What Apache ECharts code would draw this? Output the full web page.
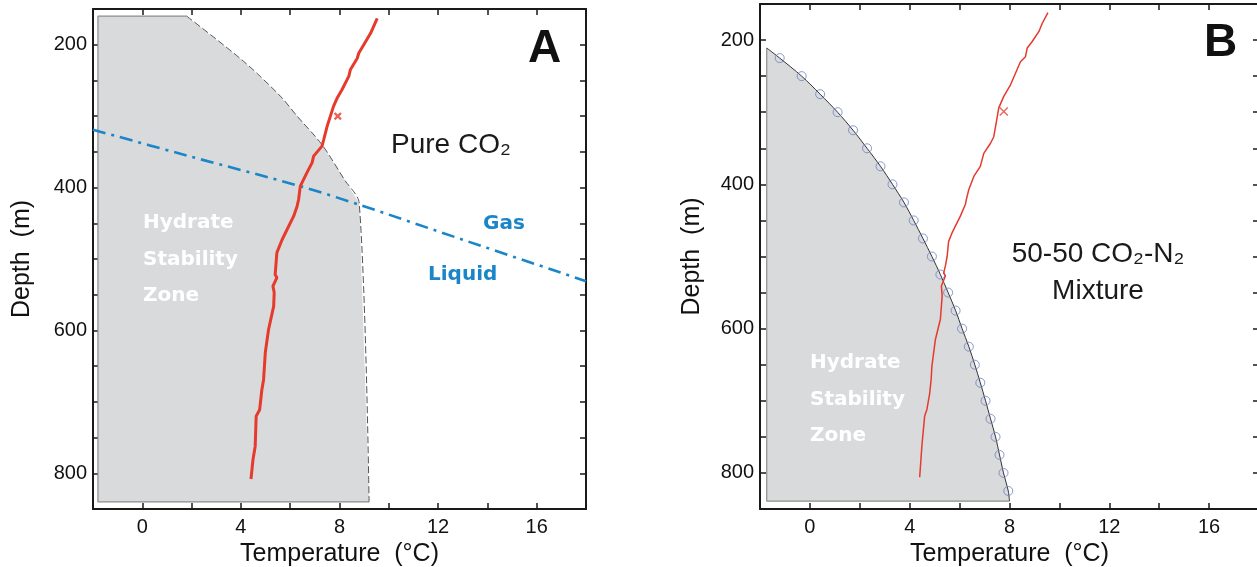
<!DOCTYPE html>
<html>
<head>
<meta charset="utf-8">
<script src="https://cdn.jsdelivr.net/npm/echarts@6/dist/echarts.min.js"></script>
<style>
html,body{margin:0;padding:0;background:#fff;}
#c{width:1257px;height:567px;}
</style>
</head>
<body>
<div id="c"></div>
<script>
// ---------- Panel A (Pure CO2) ----------
const redA_T = [9.53,9.26,8.78,8.72,8.44,8.38,8.10,7.90,7.76,7.63,7.50,7.36,7.29,6.95,6.89,6.68,6.41,6.34,6.28,6.14,5.67,5.46,5.39,5.46,5.30,5.35,5.33,5.12,4.99,4.92,4.85,4.76,4.62,4.58,4.49,4.41];
const redA_D = [163,184,212,219,235,244,263,275,286,300,314,333,342,356,365,379,398,417,426,440,473,491,522,526,538,547,566,599,631,669,683,711,720,762,781,808];
const hsA_curveT = [1.8,4.1,5.6,6.28,7.29,8.2,8.8,9.2];
const hsA_curveD = [160,223,272,300,340,389,422,840];
const hsA_edgeT = [9.2,-1.8,-1.8,1.8];
const hsA_edgeD = [840,840,160,160];
const phaseA_T = [-2,2,6.4,8.8,13,18];
const phaseA_D = [319,357,398,424,473,531];
const markA = [[7.93,300]];

// ---------- Panel B (50-50 CO2-N2) ----------
const redB_T = [9.54,9.31,9.18,8.91,8.71,8.64,8.44,8.24,8.04,7.77,7.57,7.51,7.37,7.24,6.97,6.83,6.57,6.37,6.27,6.23,6.03,5.70,5.56,5.50,5.43,5.36,5.43,5.27,5.30,5.23,5.03,4.89,4.86,4.80,4.69,4.60,4.49,4.40];
const redB_D = [162,177,188,202,211,223,230,246,262,278,294,306,334,343,357,375,389,407,421,428,444,467,479,500,513,523,527,541,555,587,615,652,670,690,712,721,762,806];
const circB_D = [225,250,275,300,325,350,375,400,425,450,475,500,525,550,575,600,625,650,675,700,725,750,775,800,825];
const circB_T = [-1.21,-0.33,0.41,1.11,1.73,2.29,2.83,3.31,3.77,4.16,4.53,4.89,5.23,5.54,5.84,6.10,6.37,6.61,6.83,7.04,7.24,7.44,7.60,7.76,7.95];
const hsB_curveT = [-1.73].concat(circB_T).concat([8.0]);
const hsB_curveD = [211].concat(circB_D).concat([839]);
const hsB_edgeT = [8.0,-1.73,-1.73];
const hsB_edgeD = [839,839,211];
const markB = [[7.77,299]];

const xTicks = [0,4,8,12,16];
const yTicks = [200,400,600,800];

const zip = (a,b) => a.map((v,i)=>[v,b[i]]);
const FONT = '"Liberation Sans", Arial, "DejaVu Sans", sans-serif';
const FONT2 = '"DejaVu Sans", "Liberation Sans", sans-serif';
const RED = '#e53a2c';
const BLUE = '#1a86c8';
const GRAY = '#d9dadb';

function polyCustom(xi, yi, T, D) {
  return {
    type:'custom', xAxisIndex:xi, yAxisIndex:yi, z:1, silent:true, clip:true,
    data:[[T[0],D[0]]],
    renderItem:(params, api) => ({
      type:'polygon',
      shape:{points:T.map((t,i)=>api.coord([t,D[i]]))},
      style:{fill:GRAY, stroke:null}
    })
  };
}

function xAxes(gi){
  return [
    {gridIndex:gi, type:'value', position:'bottom', min:-2, max:18, interval:2,
     axisLine:{show:true, onZero:false, lineStyle:{color:'#1a1a1a', width:2}},
     axisTick:{show:true, inside:true, length:6, lineStyle:{color:'#1a1a1a', width:1.5}},
     axisLabel:{show:true, fontSize:20, color:'#111', fontFamily:FONT, margin:8,
       formatter:v => xTicks.indexOf(v) >= 0 ? String(v) : ''},
     splitLine:{show:false},
     name:'Temperature  (°C)', nameLocation:'middle', nameGap:28,
     nameTextStyle:{fontSize:25, color:'#111', fontFamily:FONT}},
    {gridIndex:gi, type:'value', position:'top', min:-2, max:18, interval:2,
     axisLine:{show:true, onZero:false, lineStyle:{color:'#1a1a1a', width:2}},
     axisTick:{show:true, inside:true, length:6, lineStyle:{color:'#1a1a1a', width:1.5}},
     axisLabel:{show:false}, splitLine:{show:false}}
  ];
}
function yAxes(gi, gap){
  return [
    {gridIndex:gi, type:'value', position:'left', inverse:true, min:150, max:850, interval:50,
     axisLine:{show:true, onZero:false, lineStyle:{color:'#1a1a1a', width:2}},
     axisTick:{show:true, inside:true, length:6, lineStyle:{color:'#1a1a1a', width:1.5}},
     axisLabel:{show:true, fontSize:20, color:'#111', fontFamily:FONT, margin:6,
       formatter:v => yTicks.indexOf(v) >= 0 ? String(v) : ''},
     splitLine:{show:false},
     name:'Depth  (m)', nameLocation:'middle', nameGap:gap, nameRotate:90,
     nameTextStyle:{fontSize:25, color:'#111', fontFamily:FONT}},
    {gridIndex:gi, type:'value', position:'right', inverse:true, min:150, max:850, interval:50,
     axisLine:{show:true, onZero:false, lineStyle:{color:'#1a1a1a', width:2}},
     axisTick:{show:true, inside:true, length:6, lineStyle:{color:'#1a1a1a', width:1.5}},
     axisLabel:{show:false}, splitLine:{show:false}}
  ];
}

const xMarkA = 'path://M2,0 L5,3 L8,0 L10,2 L7,5 L10,8 L8,10 L5,7 L2,10 L0,8 L3,5 L0,2 Z';
const xMarkB = 'path://M1,0 L5,4 L9,0 L10,1 L6,5 L10,9 L9,10 L5,6 L1,10 L0,9 L4,5 L0,1 Z';

function txt(x, y, text, size, opts){
  const fam = (opts && opts.family) || FONT;
  return {type:'text', x:x, y:y, z:100, silent:true,
    style:Object.assign({text:text, font:(opts&&opts.weight||'normal')+' '+size+'px '+fam,
      fill:'#111', textVerticalAlign:'middle', textAlign:'left'}, opts&&opts.style||{})};
}
const white = {weight:'bold', family:FONT2, style:{fill:'#fff'}};
const blueT = {weight:'bold', family:FONT2, style:{fill:BLUE}};

const option = {
  animation:false,
  backgroundColor:'#fff',
  grid:[
    {left:93, top:9, width:493, height:500, containLabel:false, outerBoundsMode:'none'},
    {left:760, top:4, width:499, height:505, containLabel:false, outerBoundsMode:'none'}
  ],
  xAxis: xAxes(0).concat(xAxes(1)),
  yAxis: yAxes(0, 58).concat(yAxes(1, 55)),
  series:[
    // Panel A
    polyCustom(0,0, [9.2,-1.8,-1.8].concat(hsA_curveT), [840,840,160].concat(hsA_curveD)),
    {type:'line', xAxisIndex:0, yAxisIndex:0, data:zip(hsA_edgeT,hsA_edgeD), showSymbol:false, z:2,
     lineStyle:{color:'#8c8c8c', width:1.2}, silent:true},
    {type:'line', xAxisIndex:0, yAxisIndex:0, data:zip(hsA_curveT,hsA_curveD), showSymbol:false, z:2,
     lineStyle:{color:'#555', width:1, type:[7,3]}, smooth:0.3, silent:true},
    {type:'line', xAxisIndex:0, yAxisIndex:0, data:zip(phaseA_T,phaseA_D), showSymbol:false, z:3,
     lineStyle:{color:BLUE, width:2.6, type:[13,6,3,6]}, smooth:0.3, silent:true},
    {type:'line', xAxisIndex:0, yAxisIndex:0, data:zip(redA_T,redA_D), showSymbol:false, z:4,
     lineStyle:{color:RED, width:3}, silent:true},
    {type:'scatter', xAxisIndex:0, yAxisIndex:0, data:markA, symbol:xMarkA, symbolSize:8, z:5,
     itemStyle:{color:RED}, silent:true},
    // Panel B
    polyCustom(2,2, [8.0,-1.73].concat(hsB_curveT), [839,839].concat(hsB_curveD)),
    {type:'line', xAxisIndex:2, yAxisIndex:2, data:zip(hsB_edgeT,hsB_edgeD), showSymbol:false, z:2,
     lineStyle:{color:'#8c8c8c', width:1.2}, silent:true},
    {type:'line', xAxisIndex:2, yAxisIndex:2, data:zip(hsB_curveT,hsB_curveD), showSymbol:false, z:2,
     lineStyle:{color:'#333', width:1}, smooth:0.3, silent:true},
    {type:'scatter', xAxisIndex:2, yAxisIndex:2, data:zip(circB_T,circB_D), symbol:'circle', symbolSize:9, z:3,
     itemStyle:{color:'rgba(0,0,0,0)', borderColor:'#6b7fc2', borderWidth:1}, silent:true},
    {type:'line', xAxisIndex:2, yAxisIndex:2, data:zip(redB_T,redB_D), showSymbol:false, z:4,
     lineStyle:{color:RED, width:1.5}, silent:true},
    {type:'scatter', xAxisIndex:2, yAxisIndex:2, data:markB, symbol:xMarkB, symbolSize:9, z:5,
     itemStyle:{color:RED}, silent:true}
  ],
  graphic:[
    txt(528, 49, 'A', 46, {weight:'bold'}),
    txt(391, 145, 'Pure CO₂', 28, {style:{fill:'#1a1a1a'}}),
    txt(483, 224, 'Gas', 20, blueT),
    txt(428, 275, 'Liquid', 20, blueT),
    txt(143, 223, 'Hydrate', 20, white),
    txt(143, 260, 'Stability', 20, white),
    txt(143, 296, 'Zone', 20, white),
    txt(1204, 43, 'B', 46, {weight:'bold'}),
    txt(1098, 254, '50-50 CO₂-N₂', 28, {style:{fill:'#1a1a1a', textAlign:'center'}}),
    txt(1098, 291, 'Mixture', 28, {style:{fill:'#1a1a1a', textAlign:'center'}}),
    txt(810, 363, 'Hydrate', 20, white),
    txt(810, 400, 'Stability', 20, white),
    txt(810, 436, 'Zone', 20, white)
  ]
};

const chart = echarts.init(document.getElementById('c'), null, {renderer:'canvas'});
chart.setOption(option);
</script>
</body>
</html>
